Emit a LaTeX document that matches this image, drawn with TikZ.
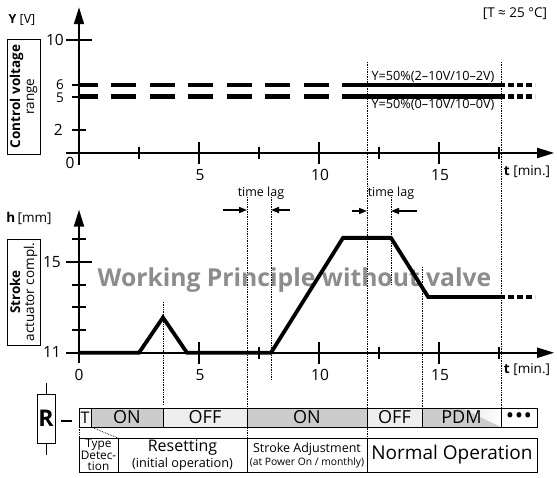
\documentclass[tikz,border=0pt]{standalone}
\usepackage{fontspec}
\setmainfont{Open Sans}
\usetikzlibrary{arrows.meta}

\tikzset{
  axis/.style={line width=2pt, -{Triangle[length=17pt,width=10pt]}},
  tick/.style={line width=2pt},
  level/.style={line width=4.2pt},
  stroke/.style={line width=3.8pt, line join=miter},
  guide/.style={densely dotted, line width=0.7pt},
  lag/.style={line width=1.6pt, -{Triangle[length=8pt,width=6pt]}},
  num/.style={font=\fontsize{15.5}{17}\selectfont, inner sep=0pt},
  unit/.style={font=\fontsize{13.5}{15}\selectfont, inner sep=0pt},
  cell/.style={draw, line width=0.8pt, inner sep=0pt, minimum height=19pt, font=\fontsize{18}{18}\selectfont},
  phase/.style={draw, line width=0.8pt, inner sep=0pt, minimum height=34pt, align=center},
  sidebox/.style={draw, line width=0.8pt, rotate=90, inner sep=0pt, minimum height=33pt, align=center, font=\fontsize{13.5}{14}\selectfont},
}

\begin{document}
\begin{tikzpicture}[x=1pt, y=-1pt]
  \useasboundingbox (0,0) rectangle (557,477);

  % dotted guide lines
  \draw[guide] (163,302) -- (163,405);
  \draw[guide] (247,197) -- (247,438);
  \draw[guide] (271,197) -- (271,380);
  \draw[guide] (367,62) -- (367,438);
  \draw[guide] (391,197) -- (391,285);
  \draw[guide] (422,267) -- (422,408);
  \draw[guide] (501,62) -- (501,408);
  \draw[guide] (79,427) -- (79,438);
  \draw[guide] (91,427) -- (118,438);

  % control voltage
  \node[unit, font=\fontsize{12.5}{14}\selectfont] (ylab) at (22,20) {\textbf{Y} [V]};
  \node[unit] (temp) at (515,14) {[T ≈ 25 °C]};
  \node[sidebox, minimum width=115pt] (ctrl) at (23.5,96.5) {\textbf{Control voltage}\\range};
  \begin{scope}[shift={(79,153)}, x=24pt, y=11.3pt]
    \draw[axis] (0,-1.05) -- (0,12.9);
    \draw[axis] (-0.55,0) -- (19.8,0);
    \draw[tick] (0,10) ++(-13pt,0) -- ++(26pt,0);
    \draw[tick] (0,6) ++(-7pt,0) -- ++(7pt,0);
    \draw[tick] (0,5) ++(-7pt,0) -- ++(7pt,0);
    \draw[tick] (0,2) ++(-7pt,0) -- ++(14pt,0);
    \foreach \t in {2.5,7.5,12.5,17.5}
      \draw[tick] (\t,0) ++(0,-6pt) -- ++(0,12pt);
    \foreach \t in {5,10,15}
      \draw[tick] (\t,0) ++(0,-11pt) -- ++(0,22pt);
    % signal levels
    \draw[level, dash pattern=on 25pt off 13.5pt] (12,6) -- (0,6);
    \draw[level, dash pattern=on 25pt off 13.5pt] (12,5) -- (0,5);
    \draw[level] (12,6) -- (17.5,6);
    \draw[level] (12,5) -- (17.5,5);
    \draw[level, dash pattern=on 6pt off 3pt] (17.5,6) -- (19,6);
    \draw[level, dash pattern=on 6pt off 3pt] (17.5,5) -- (19,5);
    \node[unit, font=\fontsize{12.7}{14}\selectfont, anchor=south, inner sep=2.5pt] (hi) at (14.75,6) {Y=50\%(2--10V/10--2V)};
    \node[unit, font=\fontsize{12.7}{14}\selectfont, anchor=north, inner sep=2.5pt] (lo) at (14.75,5) {Y=50\%(0--10V/10--0V)};
  \end{scope}
  \node[num, anchor=east] (v10) at (64,40) {10};
  \node[num, anchor=east, font=\fontsize{13.5}{14}\selectfont] (v6) at (64,84.5) {6};
  \node[num, anchor=east, font=\fontsize{13.5}{14}\selectfont] (v5) at (64,98) {5};
  \node[num, anchor=east] (v2) at (63,130) {2};
  \node[num] (t0) at (70,163) {0};
  \node[num] (t5) at (200,175) {5};
  \node[num] (t10) at (320,175) {10};
  \node[num] (t15) at (440,175) {15};
  \node[unit] (tlab) at (527,172) {\textbf{t} [min.]};

  % time lags
  \node[font=\fontsize{12.5}{13}\selectfont, inner sep=0pt] (lag1) at (261,193) {time lag};
  \node[font=\fontsize{12.5}{13}\selectfont, inner sep=0pt] (lag2) at (391,193) {time lag};
  \draw[lag] (223,210) -- (247,210);
  \draw[lag] (290,210) -- (271,210);
  \draw[lag] (352,211) -- (367,211);
  \draw[lag] (417,211) -- (391,211);

  % stroke
  \node[font=\fontsize{24.7}{28}\selectfont\bfseries, text=black!45, inner sep=0pt, anchor=base] (title) at (294.5,286) {Working Principle without valve};
  \node[unit] (hlab) at (29,218) {\textbf{h}\,[mm]};
  \node[sidebox, minimum width=106pt] (strk) at (23.5,292) {\textbf{Stroke}\\actuator compl.};
  \begin{scope}[shift={(79,603)}, x=24pt, y=22.75pt]
    \draw[axis] (0,10.56) -- (0,17.29);
    \draw[axis] (-0.55,11) -- (19.8,11);
    \draw[tick] (0,15) ++(-13pt,0) -- ++(26pt,0);
    \draw[tick] (0,11) ++(-13pt,0) -- ++(13pt,0);
    \foreach \h in {12,13,14,16}
      \draw[tick] (0,\h) ++(-7pt,0) -- ++(14pt,0);
    \foreach \t in {7.5,12.5,17.5}
      \draw[tick] (\t,11) ++(0,-6pt) -- ++(0,12pt);
    \foreach \t in {5,10,15}
      \draw[tick] (\t,11) ++(0,-11pt) -- ++(0,22pt);
    \draw[stroke] (0,11) -- (2.5,11) -- (3.5,12.55) -- (4.5,11) -- (8,11)
      -- (11,16.05) -- (13,16.05) -- (14.55,13.45) -- (17.5,13.45);
    \draw[stroke, dash pattern=on 6pt off 3pt] (17.5,13.45) -- (19,13.45);
  \end{scope}
  \node[num, anchor=east] (h15) at (61,262) {15};
  \node[num, anchor=east] (h11) at (61,352) {11};
  \node[num] (s0) at (79,375) {0};
  \node[num] (s5) at (200,375) {5};
  \node[num] (s10) at (320,375) {10};
  \node[num] (s15) at (440,375) {15};
  \node[unit] (slab) at (527,370) {\textbf{t} [min.]};

  % relay states
  \node[draw, line width=0.8pt, minimum width=18pt, minimum height=49pt, inner sep=0pt,
    font=\fontsize{23}{23}\selectfont\bfseries] (res) at (46,418.5) {R};
  \draw[line width=0.8pt] (res.north) -- ++(0,-11);
  \draw[line width=0.8pt] (res.south) -- ++(0,12);
  \draw[line width=2.5pt] (61,421) -- (72,421);
  \node[cell, fill=gray!6, minimum width=12pt, font=\fontsize{16}{16}\selectfont] (tcell) at (85,417.5) {T};
  \node[cell, fill=gray!40, minimum width=72pt] (on1) at (127,417.5) {ON};
  \node[cell, fill=gray!13, minimum width=84pt] (off1) at (205,417.5) {OFF};
  \node[cell, fill=gray!40, minimum width=120pt] (on2) at (307,417.5) {ON};
  \node[cell, fill=gray!13, minimum width=55pt] (off2) at (394.5,417.5) {OFF};
  \node[cell, fill=gray!40, minimum width=79pt, path picture={
      \shade[left color=gray!40, right color=white]
        (path picture bounding box.north) -- (path picture bounding box.north east)
        -- (path picture bounding box.south east) -- cycle;}] (pdm) at (461.5,417.5) {PDM};
  \node[cell, fill=white, minimum width=36pt, font=\fontsize{17}{17}\selectfont\bfseries] (more) at (519,417.5) {•\hspace{2.5pt}•\hspace{2.5pt}•};

  % operating phases
  \node[phase, minimum width=39pt, font=\fontsize{11.8}{11}\selectfont] (type) at (98.5,455) {Type\\Detec-\\tion};
  \node[phase, minimum width=129pt, font=\fontsize{16}{16}\selectfont] (reset) at (182.5,455)
    {Resetting\\{\fontsize{12.7}{14}\selectfont (initial operation)}};
  \node[phase, minimum width=120pt, font=\fontsize{12.5}{13}\selectfont] (adj) at (307,455)
    {Stroke Adjustment\\{\fontsize{10.3}{11}\selectfont (at Power On / monthly)}};
  \node[phase, minimum width=170pt, font=\fontsize{19}{19}\selectfont] (norm) at (452,455) {Normal Operation};
\end{tikzpicture}
\end{document}
